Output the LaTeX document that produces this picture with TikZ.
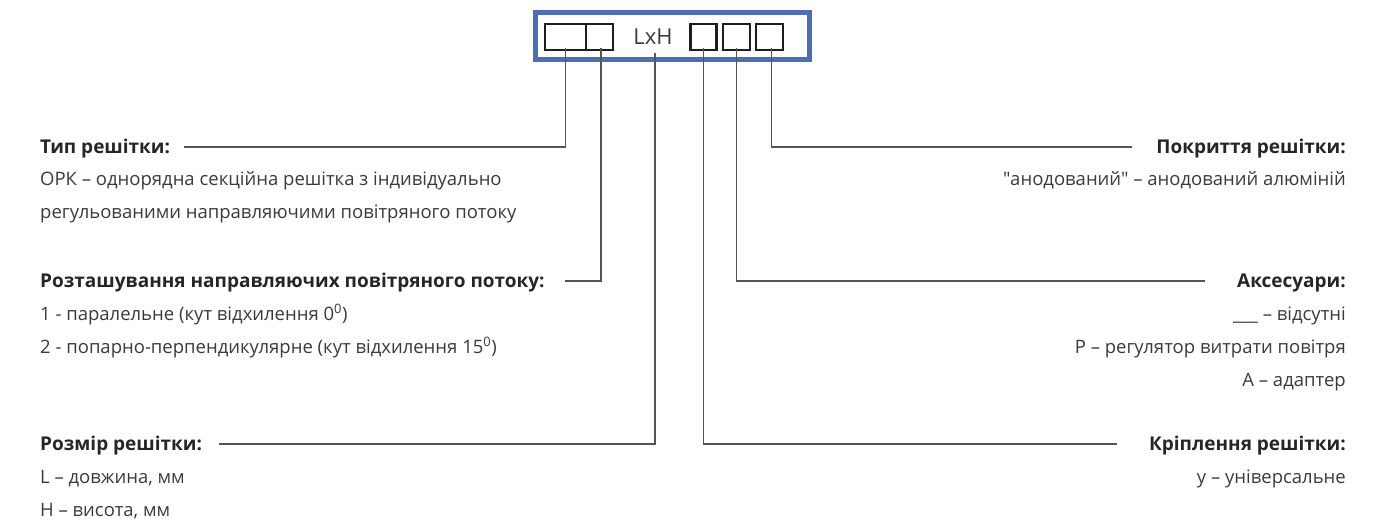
\documentclass[tikz,border=0pt]{standalone}
\usepackage{fontspec}
\setmainfont{Open Sans}[Ligatures=TeXOff]
\definecolor{frameblue}{HTML}{4F6DB5}
\definecolor{slotink}{HTML}{1E1E1E}
\definecolor{leaderink}{HTML}{555555}
\definecolor{headink}{HTML}{262626}
\definecolor{bodyink}{HTML}{3A3A3A}
\begin{document}
\begin{tikzpicture}[x=1pt,y=-1pt,
  codeframe/.style={draw=frameblue, line width=5pt, minimum width=274.5pt, minimum height=47pt, inner sep=0pt},
  slot/.style={draw=slotink, line width=2.2pt, minimum height=26pt, inner sep=0pt},
  leader/.style={draw=leaderink, line width=1.4pt},
  head/.style={font=\fontsize{19}{22}\selectfont\bfseries, text=headink, inner sep=0pt},
  body/.style={font=\fontsize{18.5}{22}\selectfont, text=bodyink, inner sep=0pt},
  lxh/.style={font=\fontsize{22}{26}\selectfont, text=bodyink, inner sep=0pt}]
\useasboundingbox (0,0) rectangle (1377,522);

% code frame with the designation slots
\node[codeframe] (frame) at (672.25,36) {};
\node[slot, minimum width=41pt] (s1) at (565.5,36.7) {};
\node[slot, minimum width=27pt] (s2) at (599.5,36.7) {};
\node[lxh] (size) at (653,36.5) {LxH};
\node[slot, minimum width=26pt] (s3) at (703.5,36.7) {};
\node[slot, minimum width=27pt] (s4) at (736.5,36.7) {};
\node[slot, minimum width=27pt] (s5) at (769.5,36.7) {};

% left column
\node[head, anchor=base west] (typeh) at (40,153) {Тип решітки:};
\node[body, anchor=base west] (type1) at (40,185) {ОРК – однорядна секційна решітка з індивідуально};
\node[body, anchor=base west] (type2) at (40,218) {регульованими направляючими повітряного потоку};

\node[head, anchor=base west] (bladeh) at (40,287) {Розташування направляючих повітряного потоку:};
\node[body, anchor=base west] (blade1) at (40,320) {1 - паралельне (кут відхилення 0\textsuperscript{0})};
\node[body, anchor=base west] (blade2) at (40,353) {2 - попарно-перпендикулярне (кут відхилення 15\textsuperscript{0})};

\node[head, anchor=base west] (dimh) at (40,450) {Розмір решітки:};
\node[body, anchor=base west] (dim1) at (40,483) {L – довжина, мм};
\node[body, anchor=base west] (dim2) at (40,516) {Н – висота, мм};

% right column
\node[head, anchor=base east] (coath) at (1346,153) {Покриття решітки:};
\node[body, anchor=base east] (coat1) at (1346,185) {"анодований" – анодований алюміній};

\node[head, anchor=base east] (acch) at (1346,287) {Аксесуари:};
\node[body, anchor=base east] (acc1) at (1346,320) {\_\_\_ – відсутні};
\node[body, anchor=base east] (acc2) at (1346,353) {Р – регулятор витрати повітря};
\node[body, anchor=base east] (acc3) at (1346,386) {А – адаптер};

\node[head, anchor=base east] (mounth) at (1346,450) {Кріплення решітки:};
\node[body, anchor=base east] (mount1) at (1346,483) {у – універсальне};

% free ends of the leaders
\coordinate (typeend) at (184,147);
\coordinate (bladeend) at (565,281);
\coordinate (dimend) at (219,444);
\coordinate (coatend) at (1132,147);
\coordinate (accend) at (1205,281);
\coordinate (mountend) at (1117,444);

% leaders from the slots to the captions
\draw[leader] ([yshift=2.5pt]s1.south) |- (typeend);
\draw[leader] ([xshift=1.5pt,yshift=2.5pt]s2.south) |- (bladeend);
\draw[leader] ([xshift=2pt]size.south |- s1.south) ++(0,2.5) |- (dimend);
\draw[leader] ([yshift=2.5pt]s3.south) |- (mountend);
\draw[leader] ([yshift=2.5pt]s4.south) |- (accend);
\draw[leader] ([xshift=2pt,yshift=2.5pt]s5.south) |- (coatend);
\end{tikzpicture}
\end{document}
